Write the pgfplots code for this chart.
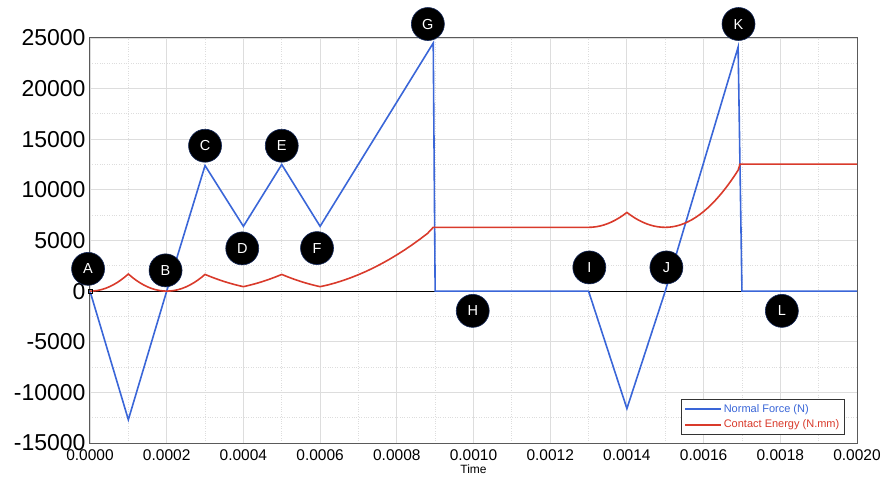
\documentclass[border=0pt]{standalone}
\usepackage{pgfplots}
\pgfplotsset{compat=1.18}
\usepackage{fontspec}
\setmainfont{Liberation Sans}

\definecolor{forceblue}{RGB}{58,102,216}
\definecolor{energyred}{RGB}{217,58,43}
\definecolor{gridgray}{RGB}{221,221,221}
\definecolor{framegray}{RGB}{90,90,90}
\definecolor{ringnavy}{RGB}{20,40,90}

\tikzset{
  stage/.style={circle, fill=black, draw=ringnavy, line width=0.6pt,
    minimum size=33pt, inner sep=0pt, text=white,
    font=\fontsize{14.5}{16}\selectfont}
}

\begin{document}
\begin{tikzpicture}
\begin{axis}[
  scale only axis,
  width=767pt, height=405pt,
  xmin=0, xmax=0.002,
  ymin=-15000, ymax=25000,
  xtick={0,0.0002,...,0.00201},
  ytick={-15000,-10000,...,25000},
  minor x tick num=1,
  minor y tick num=1,
  major tick length=0pt, minor tick length=0pt,
  grid=both,
  major grid style={gridgray, line width=0.9pt},
  minor grid style={gridgray, dotted, line width=0.9pt},
  axis line style={framegray, line width=1pt},
  scaled x ticks=false, scaled y ticks=false,
  xticklabel style={font=\fontsize{15.5}{17}\selectfont, yshift=-3pt,
    /pgf/number format/fixed, /pgf/number format/fixed zerofill,
    /pgf/number format/precision=4, /pgf/number format/assume math mode=true},
  yticklabel style={font=\fontsize{23}{25}\selectfont, xshift=-1pt,
    /pgf/number format/1000 sep={}, /pgf/number format/assume math mode=true},
  xlabel={Time},
  xlabel style={font=\fontsize{12}{13}\selectfont, yshift=3pt},
  legend style={at={(0.984,0.02)}, anchor=south east, draw=black!80,
    line width=0.8pt, font=\fontsize{11}{13}\selectfont,
    row sep=2pt, inner sep=3pt},
  legend cell align=left,
  legend image code/.code={\draw[#1, line width=1.6pt] (0pt,0pt) -- (36pt,0pt);},
  clip=false,
]
% zero reference line
\draw[black, line width=1pt] (axis cs:0,0) -- (axis cs:0.002,0);

% normal force
\addplot[forceblue, line width=1.6pt] coordinates {
  (0,0) (0.0001,-12700) (0.0002,0) (0.0003,12400) (0.0004,6400)
  (0.0005,12500) (0.0006,6400) (0.000895,24500) (0.0009,0)
  (0.0013,0) (0.0014,-11600) (0.0015,0) (0.00169,24100) (0.0017,0)
  (0.002,0)
};
\addlegendentry{\textcolor{forceblue}{Normal Force (N)}}

% contact energy
\addplot[energyred, line width=1.6pt] coordinates {
  (0,0) (0.00001,17) (0.00002,68) (0.00003,152) (0.00004,270) (0.00005,423)
  (0.00006,608) (0.00007,828) (0.00008,1082) (0.00009,1369) (0.0001,1690)
  (0.00011,1369) (0.00012,1082) (0.00013,828) (0.00014,608) (0.00015,423)
  (0.00016,270) (0.00017,152) (0.00018,68) (0.00019,17) (0.0002,0)
  (0.00021,16) (0.00022,66) (0.00023,149) (0.00024,264) (0.00025,413)
  (0.00026,594) (0.00027,809) (0.00028,1056) (0.00029,1337) (0.0003,1650)
  (0.00031,1494) (0.00032,1346) (0.00033,1206) (0.00034,1073) (0.00035,948)
  (0.00036,831) (0.00037,722) (0.00038,620) (0.00039,526) (0.0004,440)
  (0.00041,526) (0.00042,620) (0.00043,722) (0.00044,831) (0.00045,948)
  (0.00046,1073) (0.00047,1206) (0.00048,1346) (0.00049,1494) (0.0005,1650)
  (0.00051,1494) (0.00052,1346) (0.00053,1206) (0.00054,1073) (0.00055,948)
  (0.00056,831) (0.00057,722) (0.00058,620) (0.00059,526) (0.0006,440)
  (0.00062,607) (0.00064,815) (0.00066,1054) (0.00068,1323) (0.0007,1623)
  (0.00072,1952) (0.00074,2313) (0.00076,2705) (0.00078,3127) (0.0008,3579)
  (0.00082,4062) (0.00084,4576) (0.00086,5120) (0.00088,5695) (0.000895,6300)
  (0.0013,6300)
  (0.00131,6315) (0.00132,6359) (0.00133,6432) (0.00134,6535) (0.00135,6668)
  (0.00136,6829) (0.00137,7020) (0.00138,7241) (0.00139,7491) (0.0014,7770)
  (0.00141,7491) (0.00142,7241) (0.00143,7020) (0.00144,6829) (0.00145,6668)
  (0.00146,6535) (0.00147,6432) (0.00148,6359) (0.00149,6315) (0.0015,6300)
  (0.00151,6316) (0.00152,6363) (0.00153,6441) (0.00154,6550) (0.00155,6691)
  (0.00156,6863) (0.00157,7066) (0.00158,7300) (0.00159,7566) (0.0016,7863)
  (0.00161,8191) (0.00162,8550) (0.00163,8941) (0.00164,9363) (0.00165,9816)
  (0.00166,10300) (0.00167,10816) (0.00168,11363) (0.00169,11941) (0.001695,12550)
  (0.002,12550)
};
\addlegendentry{\textcolor{energyred}{Contact Energy (N.mm)}}

% origin marker
\addplot[black, mark=square, mark size=2.2pt, only marks, forget plot] coordinates {(0,0)};

% stage markers
\node[stage] at (axis cs:-0.000005,2200) {A};
\node[stage] at (axis cs:0.000197,2050) {B};
\node[stage] at (axis cs:0.0003,14360) {C};
\node[stage] at (axis cs:0.000397,4220) {D};
\node[stage] at (axis cs:0.0005,14360) {E};
\node[stage] at (axis cs:0.000592,4250) {F};
\node[stage] at (axis cs:0.000881,26380) {G};
\node[stage] at (axis cs:0.000998,-1950) {H};
\node[stage] at (axis cs:0.001302,2340) {I};
\node[stage] at (axis cs:0.001503,2340) {J};
\node[stage] at (axis cs:0.001691,26380) {K};
\node[stage] at (axis cs:0.001804,-1950) {L};
\end{axis}
\pgfresetboundingbox
\useasboundingbox (-90pt,-38pt) rectangle (792pt,443pt);
\end{tikzpicture}
\end{document}
